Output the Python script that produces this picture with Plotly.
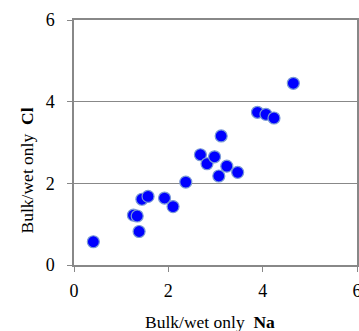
import plotly.graph_objects as go

na = [0.41, 1.38, 1.26, 1.34, 1.44, 1.57, 1.92, 2.10, 2.37, 2.68, 2.82,
      4.65, 3.89, 4.07, 4.24, 3.12, 2.98, 3.24, 3.07, 3.47]
cl = [0.57, 0.82, 1.22, 1.20, 1.61, 1.68, 1.64, 1.43, 2.03, 2.70, 2.48,
      4.45, 3.74, 3.69, 3.60, 3.16, 2.65, 2.42, 2.18, 2.27]
ticks = [0, 2, 4, 6]

fig = go.Figure()
fig.add_trace(go.Scatter(
    x=na, y=cl, mode="markers",
    marker=dict(size=12, color="#0000FF", line=dict(width=1.2, color="#7a9ad6")),
    showlegend=False,
))

font = dict(family="Liberation Serif", color="black")
axis_common = dict(
    range=[0, 6], tickvals=ticks, showline=True, linecolor="#888888", linewidth=1.5,
    mirror=True, ticks="outside", ticklen=5, tickcolor="#888888", tickwidth=1,
    tickfont=dict(size=18, **font), zeroline=False, automargin=False,
    ticklabeloverflow="allow",
)
fig.update_xaxes(showgrid=False, ticklabelstandoff=4, **axis_common)
fig.update_yaxes(showgrid=True, gridcolor="#888888", gridwidth=1.2,
                 ticklabelstandoff=9, **axis_common)

fig.update_layout(
    width=359, height=331,
    margin=dict(l=74, r=2, t=20, b=66),
    font=font,
    plot_bgcolor="white", paper_bgcolor="white",
    annotations=[
        dict(text="Bulk/wet only  <b>Na</b>", xref="paper", yref="paper",
             x=0.48, y=-0.234, yanchor="middle", xanchor="center", showarrow=False,
             font=dict(size=17.5, **font)),
        dict(text="Bulk/wet only  <b>Cl</b>", xref="paper", yref="paper",
             x=-0.167, y=0.385, yanchor="middle", xanchor="center", showarrow=False,
             textangle=-90, font=dict(size=17.5, **font)),
    ],
)

fig.write_html("out.html")
